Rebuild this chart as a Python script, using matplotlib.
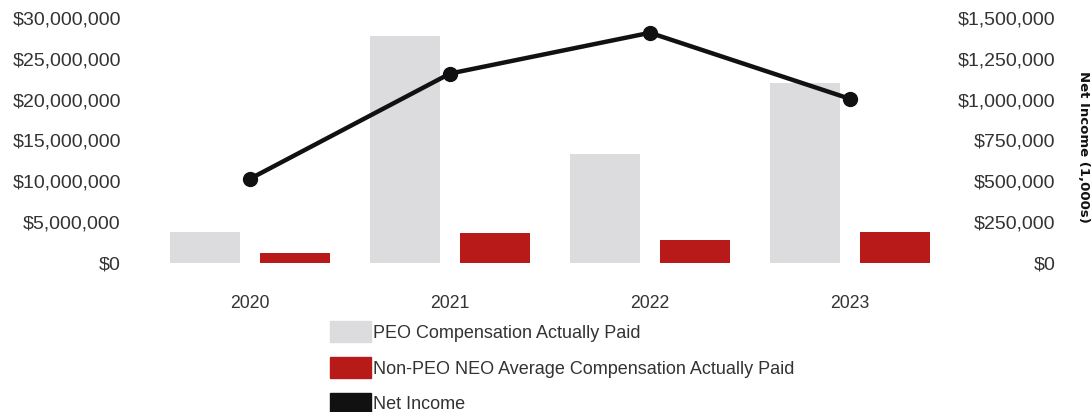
import numpy as np
import matplotlib
matplotlib.use("Agg")
import matplotlib.pyplot as plt
from matplotlib.patches import Patch
from matplotlib.ticker import FuncFormatter

plt.rcParams["font.family"] = ["Liberation Sans", "DejaVu Sans"]

years = ["2020", "2021", "2022", "2023"]
peo_cap = [3.8e6, 27.8e6, 13.3e6, 22.0e6]
neo_cap = [1.2e6, 3.7e6, 2.8e6, 3.8e6]
net_income = [515000, 1160000, 1410000, 1005000]

left_ticks = [0, 5e6, 10e6, 15e6, 20e6, 25e6, 30e6]
right_ticks = [0, 250000, 500000, 750000, 1000000, 1250000, 1500000]

GREY = "#dcdcde"
RED = "#b81a1a"
BLACK = "#111111"
TXT = "#333333"

W, H = 1092, 412
fig = plt.figure(figsize=(W / 100, H / 100), dpi=100)
# axes placed in pixel terms: x 150..950, y 14..271 from the top
ax = fig.add_axes([150 / W, 1 - 271 / H, 800 / W, 257 / H])
ax2 = ax.twinx()

x = np.arange(len(years))
bw = 0.35
ax.bar(x - 0.225, peo_cap, bw, color=GREY, zorder=1)
ax.bar(x + 0.225, neo_cap, bw, color=RED, zorder=1)
ax2.plot(x, net_income, color=BLACK, lw=3.2, marker="o", ms=10, zorder=3)

ax.set_xlim(-0.5, 3.5)
ax.set_ylim(-1.0e6, 30.5e6)
ax2.set_ylim(-1.0e6 / 20, 30.5e6 / 20)

fmt = FuncFormatter(lambda v, _: f"${v:,.0f}")
ax.set_yticks(left_ticks)
ax.yaxis.set_major_formatter(fmt)
ax2.set_yticks(right_ticks)
ax2.yaxis.set_major_formatter(fmt)
ax.set_xticks(x)
ax.set_xticklabels(years)

ax.tick_params(axis="y", length=0, pad=21, labelsize=14, labelcolor=TXT)
ax.tick_params(axis="x", length=0, pad=17, labelsize=12.7, labelcolor=TXT)
ax2.tick_params(axis="y", length=0, pad=76, labelsize=14, labelcolor=TXT)
for lab in ax2.get_yticklabels():
    lab.set_horizontalalignment("right")

for a in (ax, ax2):
    for s in a.spines.values():
        s.set_visible(False)
ax2.set_zorder(ax.get_zorder() + 1)
ax2.patch.set_visible(False)

fig.text(1084 / W, 1 - 147 / H, "Net Income (1,000s)", rotation=-90,
         ha="center", va="center", fontsize=9.5, fontweight="bold",
         color=BLACK, family="DejaVu Sans")

handles = [Patch(color=GREY), Patch(color=RED), Patch(color=BLACK)]
labels = ["PEO Compensation Actually Paid",
          "Non-PEO NEO Average Compensation Actually Paid",
          "Net Income"]
leg = fig.legend(handles, labels, loc="upper left",
                 bbox_to_anchor=(330 / W, 1 - 321 / H), frameon=False,
                 fontsize=13, handlelength=2.25, handleheight=1.45,
                 handletextpad=0.15, labelspacing=0.8, borderpad=0,
                 borderaxespad=0)
for t in leg.get_texts():
    t.set_color(TXT)

fig.savefig("out.png", dpi=100)
